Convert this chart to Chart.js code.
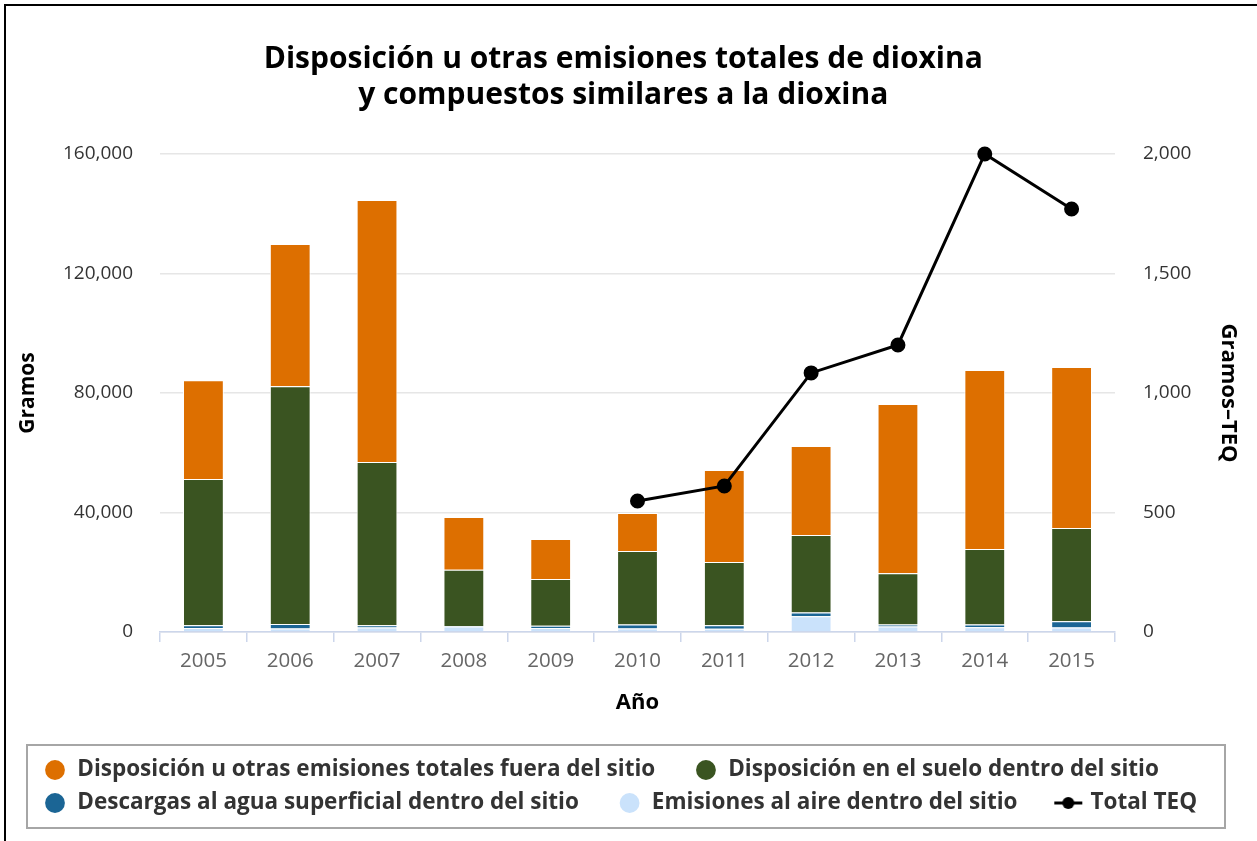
<!DOCTYPE html>
<html>
<head>
<meta charset="utf-8">
<script src="https://cdn.jsdelivr.net/npm/chart.js@4.4.1/dist/chart.umd.min.js"></script>
<style>
  html, body { margin: 0; padding: 0; background: #fff; }
  #wrap { position: relative; width: 1257px; height: 841px; }
  #wrap .edge-top { position: absolute; left: 4px; top: 4px; width: 1253px; height: 2px; background: #000; }
  #wrap .edge-left { position: absolute; left: 4px; top: 4px; width: 2px; height: 837px; background: #000; }
</style>
</head>
<body>
<div id="wrap">
  <canvas id="dioxinChart" width="1257" height="841"></canvas>
  <div class="edge-top"></div>
  <div class="edge-left"></div>
</div>
<script>
// years on the x axis
const years = ["2005", "2006", "2007", "2008", "2009", "2010", "2011", "2012", "2013", "2014", "2015"];

// grams (stacked from the bottom up)
const airOnsite   = [1300, 1200, 1500, 1800, 1300, 1200, 1100, 5300, 1800, 1600, 1500];
const waterOnsite = [1000, 1500,  800,  200,  800, 1300, 1200, 1200,  700,  900, 2100];
const landOnsite  = [48900, 79600, 54600, 18800, 15600, 24600, 21100, 26000, 17200, 25300, 31200];
const offsite     = [33100, 47600, 87700, 17700, 13400, 12700, 30800, 29800, 56600, 59900, 53900];

// grams TEQ, right axis
const totalTEQ = [null, null, null, null, null, 548, 611, 1084, 1201, 2000, 1770];

const leftTicks = [0, 40000, 80000, 120000, 160000];
const rightTicks = [0, 500, 1000, 1500, 2000];

const names = [
  "Emisiones al aire dentro del sitio",
  "Descargas al agua superficial dentro del sitio",
  "Disposición en el suelo dentro del sitio",
  "Disposición u otras emisiones totales fuera del sitio",
  "Total TEQ",
];
// legend order: fuera, suelo, agua, aire, TEQ
const legendRank = [3, 2, 1, 0, 4];

const colors = ["#cae2fb", "#1b6595", "#3a5421", "#dd6f00", "#000000"];

const FONT = "'Open Sans', 'DejaVu Sans', sans-serif";

// little "line + dot" marker for the TEQ legend entry
function lineMarker() {
  const c = document.createElement("canvas");
  c.width = 30; c.height = 14;
  const g = c.getContext("2d");
  g.strokeStyle = "#000"; g.lineWidth = 3;
  g.beginPath(); g.moveTo(1, 7); g.lineTo(29, 7); g.stroke();
  g.fillStyle = "#000";
  g.beginPath(); g.arc(15, 7, 6, 0, Math.PI * 2); g.fill();
  return c;
}
const teqMarker = lineMarker();

const fmt = (v) => v.toLocaleString("en-US");

// grey frame around the legend
const legendFrame = {
  id: "legendFrame",
  afterDraw(chart) {
    const lg = chart.legend;
    if (!lg) return;
    const ctx = chart.ctx;
    ctx.save();
    ctx.strokeStyle = "#a6a6a6";
    ctx.lineWidth = 2;
    ctx.strokeRect(lg.left - 6.5, lg.top - 3.25, lg.right - lg.left + 18.5, lg.bottom - lg.top + 7);
    ctx.restore();
  },
};

function barSet(i, data) {
  return {
    type: "bar",
    label: names[i],
    data,
    backgroundColor: colors[i],
    borderColor: "#ffffff",
    borderWidth: 1,
    yAxisID: "y",
    order: 1,
  };
}

const ctx = document.getElementById("dioxinChart").getContext("2d");
new Chart(ctx, {
  type: "bar",
  data: {
    labels: years,
    datasets: [
      barSet(0, airOnsite),
      barSet(1, waterOnsite),
      barSet(2, landOnsite),
      barSet(3, offsite),
      {
        type: "line",
        label: names[4],
        data: totalTEQ,
        borderColor: colors[4],
        backgroundColor: colors[4],
        borderWidth: 3,
        pointRadius: 6,
        pointHoverRadius: 6,
        tension: 0,
        clip: false,
        yAxisID: "y1",
        order: 0,
      },
    ],
  },
  options: {
    responsive: false,
    animation: false,
    devicePixelRatio: 1,
    datasets: { bar: { categoryPercentage: 1, barPercentage: 0.47 } },
    layout: { padding: { top: 10, left: 33.5, right: 44, bottom: 16.75 } },
    scales: {
      x: {
        stacked: true,
        grid: { offset: true, drawOnChartArea: false, color: "#ccd6eb", tickLength: 10, lineWidth: 1.5 },
        border: { color: "#ccd6eb", width: 1.5 },
        ticks: { color: "#666", font: { family: FONT, size: 20.5 }, padding: 7, maxRotation: 0 },
        title: { display: true, text: "Año", color: "#000", font: { family: FONT, size: 22, weight: "bold" }, padding: { top: 0, bottom: 32 } },
        afterFit: (s) => { s.height = 116.25; },
      },
      y: {
        stacked: true,
        position: "left",
        min: 0,
        max: 160000,
        afterBuildTicks: (s) => { s.ticks = leftTicks.map((v) => ({ value: v })); },
        grid: { color: "#e6e6e6", lineWidth: 1.5, drawTicks: false },
        border: { display: false },
        ticks: { color: "#333", font: { family: FONT, size: 19 }, padding: 27, callback: fmt },
        title: { display: true, text: "Gramos", color: "#000", font: { family: FONT, size: 21, weight: "bold" }, padding: { top: -18, bottom: 0 } },
        afterFit: (s) => { s.width = 126.5; },
      },
      y1: {
        position: "right",
        min: 0,
        max: 2000,
        afterBuildTicks: (s) => { s.ticks = rightTicks.map((v) => ({ value: v })); },
        grid: { display: false, drawTicks: false },
        border: { display: false },
        ticks: { color: "#333", font: { family: FONT, size: 19 }, padding: 28, callback: fmt },
        title: { display: true, text: "Gramos–TEQ", color: "#000", font: { family: FONT, size: 22, weight: "bold" }, padding: { top: -28, bottom: 0 } },
        afterFit: (s) => { s.width = 98; },
      },
    },
    plugins: {
      title: {
        display: true,
        text: ["Disposición u otras emisiones totales de dioxina", "y compuestos similares a la dioxina"],
        color: "#000",
        font: { family: FONT, size: 30, weight: "bold", lineHeight: "36px" },
        padding: { top: 31, bottom: 41 },
      },
      legend: {
        position: "bottom",
        align: "start",
        labels: {
          color: "#333",
          font: { family: FONT, size: 22.5, weight: "bold" },
          usePointStyle: true,
          boxWidth: 22,
          boxHeight: 14,
          padding: 10.5,
          sort: (a, b) => legendRank[a.datasetIndex] - legendRank[b.datasetIndex],
          generateLabels(chart) {
            const items = Chart.defaults.plugins.legend.labels.generateLabels(chart);
            items.forEach((it) => {
              if (it.datasetIndex === 4) {
                it.pointStyle = teqMarker;
              } else {
                it.pointStyle = "circle";
                it.strokeStyle = it.fillStyle;
                it.text = it.text + "     ";
              }
              it.lineWidth = 0;
            });
            return items;
          },
        },
      },
      tooltip: { enabled: false },
    },
  },
  plugins: [legendFrame],
});
</script>
</body>
</html>
